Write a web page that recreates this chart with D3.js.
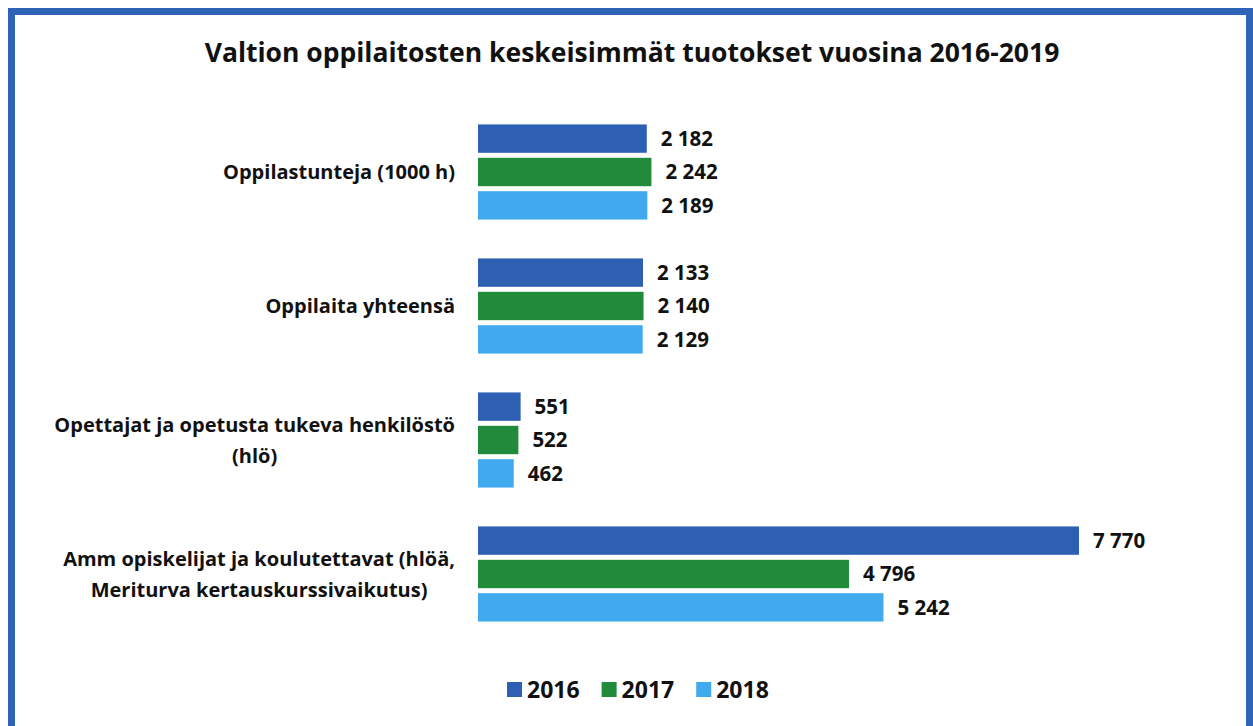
<!DOCTYPE html>
<html lang="fi">
<head>
<meta charset="UTF-8">
<title>Valtion oppilaitosten keskeisimmät tuotokset</title>
<script src="https://d3js.org/d3.v7.min.js"></script>
<style>
  html, body { margin: 0; padding: 0; background: #fff; }
  body { font-family: "Open Sans", Lato, sans-serif; }
  text { font-weight: 700; fill: #111; }
</style>
</head>
<body>
<svg width="1253" height="726"></svg>
<script>
// data
const categories = [
  ["Oppilastunteja (1000 h)"],
  ["Oppilaita yhteensä"],
  ["Opettajat ja opetusta tukeva henkilöstö", "(hlö)"],
  ["Amm opiskelijat ja koulutettavat (hlöä,", "Meriturva kertauskurssivaikutus)"]
];
const years = ["2016", "2017", "2018"];
const values2016 = [2182, 2133, 551, 7770];
const values2017 = [2242, 2140, 522, 4796];
const values2018 = [2189, 2129, 462, 5242];
const colors = ["#2d5fb2", "#1f8b3b", "#41a9ee"];

const series = [values2016, values2017, values2018];
const svg = d3.select("svg");

// frame
svg.append("rect")
  .attr("x", 11.5).attr("y", 11.5)
  .attr("width", 1238).attr("height", 740)
  .attr("fill", "none")
  .attr("stroke", "#2f63b5")
  .attr("stroke-width", 7);

// title
svg.append("text")
  .attr("x", 632).attr("y", 62)
  .attr("text-anchor", "middle")
  .style("font-size", "26.5px")
  .text("Valtion oppilaitosten keskeisimmät tuotokset vuosina 2016-2019");

const x = d3.scaleLinear().domain([0, 7770]).range([478, 1079]);

const y0 = d3.scaleBand()
  .domain(d3.range(categories.length))
  .range([105, 641])
  .paddingInner(0.29)
  .paddingOuter(0.145);

const y1 = d3.scaleBand()
  .domain(years)
  .range([0, y0.bandwidth()])
  .paddingInner(0.15);

const fmt = v => d3.format(",")(v).replace(/,/g, " ");

const groups = svg.selectAll("g.cat")
  .data(categories)
  .join("g")
  .attr("class", "cat")
  .attr("transform", (d, i) => `translate(0,${y0(i)})`);

groups.each(function(lines, i) {
  const g = d3.select(this);
  years.forEach((yr, j) => {
    const v = series[j][i];
    g.append("rect")
      .attr("x", x(0))
      .attr("y", y1(yr))
      .attr("width", x(v) - x(0))
      .attr("height", y1.bandwidth())
      .attr("fill", colors[j]);
    g.append("text")
      .attr("x", x(v) + 14)
      .attr("y", y1(yr) + y1.bandwidth() / 2)
      .attr("dy", "0.36em")
      .style("font-size", "20.5px")
      .text(fmt(v));
  });

  // category label, lines centred in a block right-aligned at 455
  const lab = g.append("text").style("font-size", "20px");
  const lh = 31;
  const mid = y0.bandwidth() / 2 - (lines.length - 1) * lh / 2;
  const spans = lines.map((l, k) => lab.append("tspan")
    .attr("y", mid + k * lh)
    .attr("dy", "0.36em")
    .text(l));
  const widths = spans.map(s => s.node().getComputedTextLength());
  const cx = 455 - d3.max(widths) / 2;
  spans.forEach(s => s.attr("x", cx).attr("text-anchor", "middle"));
});

// legend
const legend = svg.append("g").attr("transform", "translate(507,690)");
let lx = 0;
years.forEach((yr, j) => {
  legend.append("rect")
    .attr("x", lx).attr("y", -8)
    .attr("width", 15).attr("height", 15)
    .attr("fill", colors[j]);
  const t = legend.append("text")
    .attr("x", lx + 20).attr("y", 0)
    .attr("dy", "0.36em")
    .style("font-size", "23px")
    .text(yr);
  lx += 20 + t.node().getComputedTextLength() + 22;
});
</script>
</body>
</html>
